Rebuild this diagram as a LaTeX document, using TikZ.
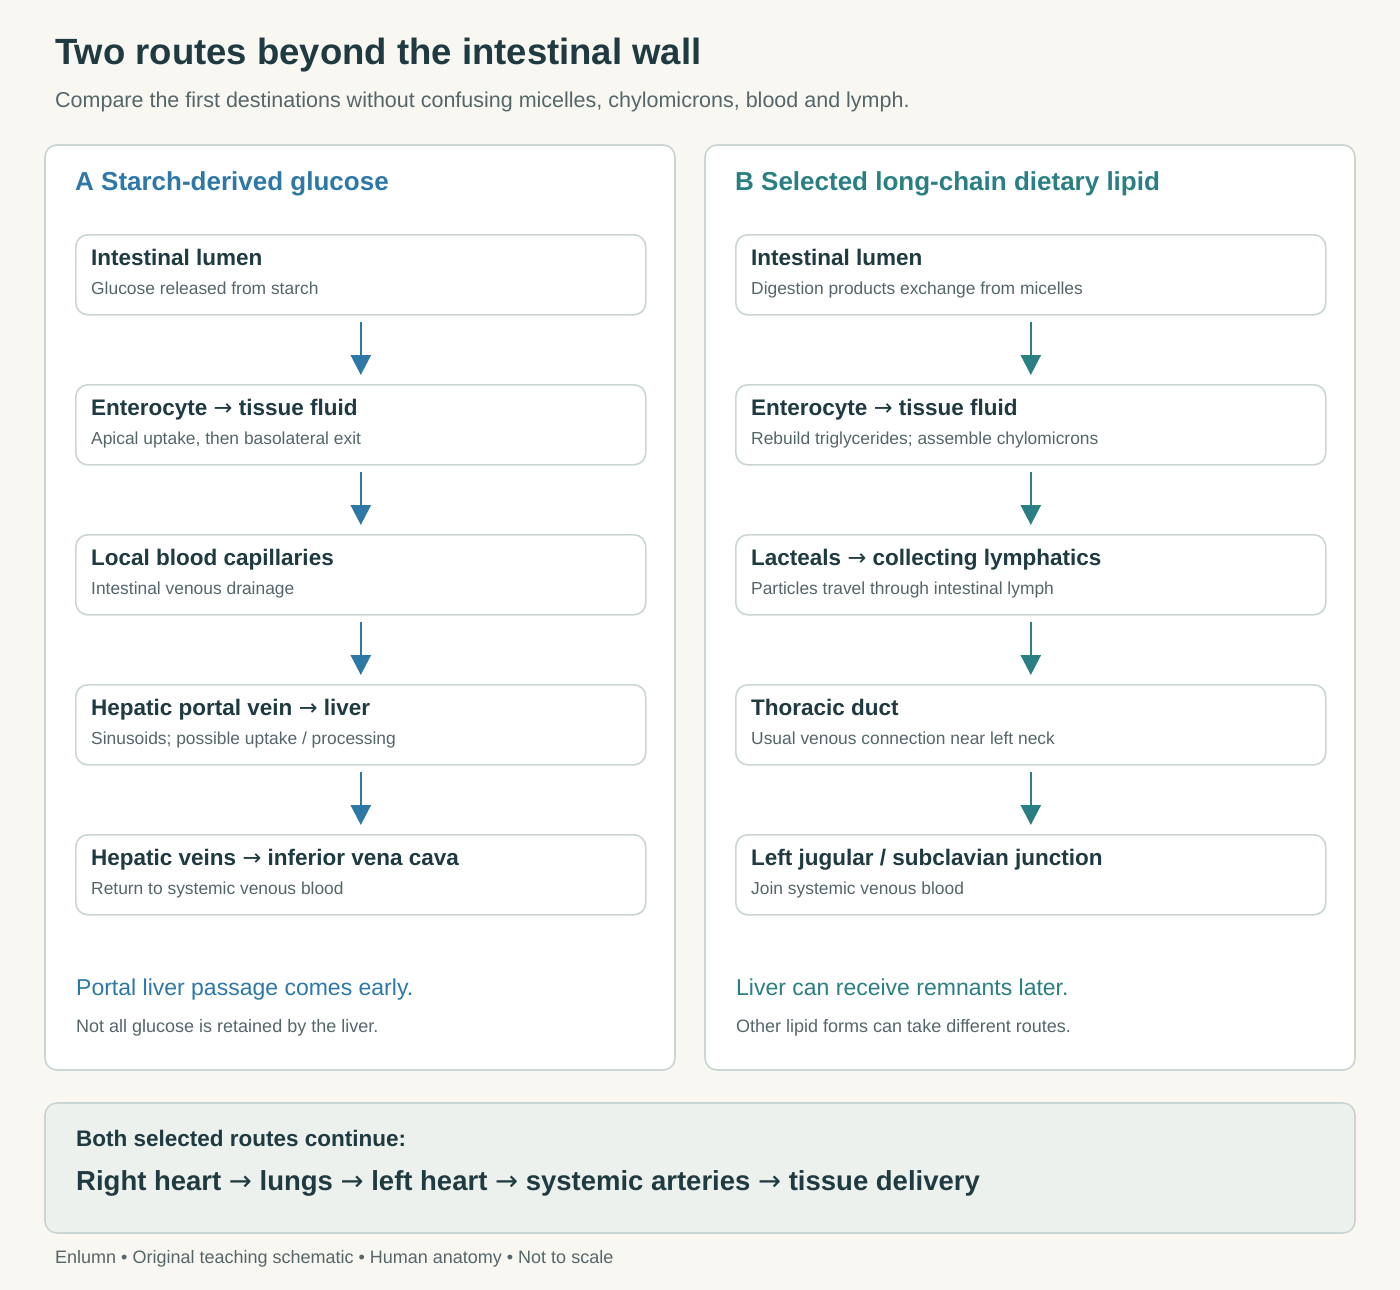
\documentclass[tikz,border=0pt]{standalone}
\usepackage{fontspec}
\setmainfont{Liberation Sans}
\newfontfamily\arrowfont{DejaVu Sans}
\usetikzlibrary{arrows.meta, positioning}
\definecolor{bgpaper}{HTML}{F8F7F2}
\definecolor{inkdark}{HTML}{1F3A40}
\definecolor{inkgray}{HTML}{55666A}
\definecolor{edgegray}{HTML}{CBD6D4}
\definecolor{routeblue}{HTML}{2E78A8}
\definecolor{routeteal}{HTML}{2A7F82}
\definecolor{notefill}{HTML}{ECF1ED}
\newcommand{\fs}[1]{\fontsize{#1}{#1}\selectfont}
\newcommand{\ra}{{\arrowfont\mdseries →}}

\begin{document}
\begin{tikzpicture}[x=1pt, y=-1pt,
  panel/.style={draw=edgegray, line width=1.6pt, rounded corners=12pt, fill=white},
  stage/.style={draw=edgegray, line width=1.6pt, rounded corners=12pt, fill=white,
    minimum height=80pt, anchor=north west, inner sep=0pt},
  head/.style={anchor=base west, inner sep=0pt, font=\fs{22.5}\bfseries, text=inkdark},
  sub/.style={anchor=base west, inner sep=0pt, font=\fs{17.4}, text=inkgray},
  arr/.style={line width=2.6pt, -{Triangle[length=20pt, width=20pt]},
    shorten <=6pt, shorten >=9pt}]
  \useasboundingbox[fill=bgpaper] (0,0) rectangle (1400,1290);

  % title
  \node[anchor=base west, inner sep=0pt, font=\fs{36.5}\bfseries, text=inkdark] (title) at (55,65)
    {Two routes beyond the intestinal wall};
  \node[anchor=base west, inner sep=0pt, font=\fs{21.5}, text=inkgray] (subtitle) at (55,107)
    {Compare the first destinations without confusing micelles, chylomicrons, blood and lymph.};

  % panels
  \draw[panel] (45,145) rectangle (675,1070);
  \draw[panel] (705,145) rectangle (1355,1070);
  \node[anchor=base west, inner sep=0pt, font=\fs{26}\bfseries, text=routeblue] (headA) at (75,190)
    {A Starch-derived glucose};
  \node[anchor=base west, inner sep=0pt, font=\fs{26}\bfseries, text=routeteal] (headB) at (735,190)
    {B Selected long-chain dietary lipid};

  % route A
  \foreach \i/\t/\s in {
      1/Intestinal lumen/Glucose released from starch,
      2/{Enterocyte \ra{} tissue fluid}/{Apical uptake, then basolateral exit},
      3/Local blood capillaries/Intestinal venous drainage,
      4/{Hepatic portal vein \ra{} liver}/{Sinusoids; possible uptake / processing},
      5/{Hepatic veins \ra{} inferior vena cava}/Return to systemic venous blood} {
    \node[stage, minimum width=570pt] (a\i) at (75,{234+150*(\i-1)}) {};
    \node[head] at ([shift={(16pt,-31pt)}]a\i.north west) {\t};
    \node[sub] at ([shift={(16pt,-60pt)}]a\i.north west) {\s};
  }
  % route B
  \foreach \i/\t/\s in {
      1/Intestinal lumen/Digestion products exchange from micelles,
      2/{Enterocyte \ra{} tissue fluid}/Rebuild triglycerides; assemble chylomicrons,
      3/{Lacteals \ra{} collecting lymphatics}/Particles travel through intestinal lymph,
      4/Thoracic duct/Usual venous connection near left neck,
      5/{Left jugular / subclavian junction}/Join systemic venous blood} {
    \node[stage, minimum width=590pt] (b\i) at (735,{234+150*(\i-1)}) {};
    \node[head] at ([shift={(16pt,-31pt)}]b\i.north west) {\t};
    \node[sub] at ([shift={(16pt,-60pt)}]b\i.north west) {\s};
  }
  \foreach \i [evaluate=\i as \j using int(\i+1)] in {1,...,4} {
    \draw[arr, routeblue] (a\i.south) -- (a\j.north);
    \draw[arr, routeteal] (b\i.south) -- (b\j.north);
  }

  % panel notes
  \node[anchor=base west, inner sep=0pt, font=\fs{23}, text=routeblue] (noteA) at (76,995)
    {Portal liver passage comes early.};
  \node[sub, font=\fs{18}] (capA) at (76,1032) {Not all glucose is retained by the liver.};
  \node[anchor=base west, inner sep=0pt, font=\fs{23}, text=routeteal] (noteB) at (736,995)
    {Liver can receive remnants later.};
  \node[sub, font=\fs{18}] (capB) at (736,1032) {Other lipid forms can take different routes.};

  % shared continuation
  \draw[draw=edgegray, line width=1.6pt, rounded corners=12pt, fill=notefill] (45,1103) rectangle (1355,1233);
  \node[head] (both) at (76,1146) {Both selected routes continue:};
  \node[anchor=base west, inner sep=0pt, font=\fs{27.5}\bfseries, text=inkdark] (chain) at (76,1190)
    {Right heart \ra{} lungs \ra{} left heart \ra{} systemic arteries \ra{} tissue delivery};

  \node[sub, font=\fs{18}] (footer) at (55,1263) {Enlumn • Original teaching schematic • Human anatomy • Not to scale};
\end{tikzpicture}
\end{document}
